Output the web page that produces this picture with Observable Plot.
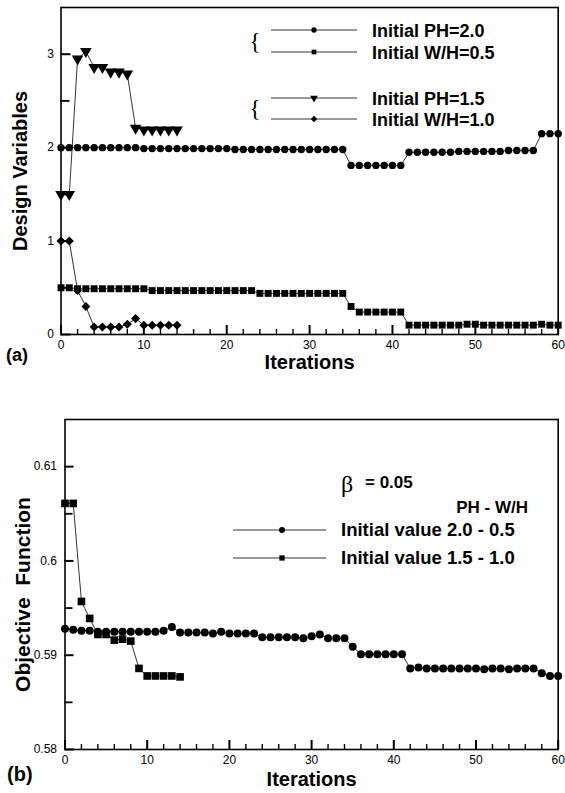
<!DOCTYPE html>
<html>
<head>
<meta charset="utf-8">
<script src="https://cdn.jsdelivr.net/npm/d3@7"></script>
<script src="https://cdn.jsdelivr.net/npm/@observablehq/plot@0.6"></script>
<style>
  html, body { margin: 0; padding: 0; background: #fff; }
  #wrap { position: relative; width: 565px; height: 793px; overflow: hidden; }
  #wrap svg { position: absolute; left: 0; }
</style>
</head>
<body>
<div id="wrap"></div>
<script>
// ---------- DATA ----------
// Panel (a): design variables vs iterations
const phInit20 = [2.00,2.00,2.00,2.00,2.00,2.00,2.00,2.00,2.00,2.00,
  1.99,1.99,1.99,1.99,1.99,1.99,1.99,1.99,1.99,1.99,1.99,
  1.98,1.98,1.98,1.98,1.98,1.98,1.98,1.98,1.98,1.98,1.98,1.98,1.98,1.98,
  1.81,1.81,1.81,1.81,1.81,1.81,1.81,
  1.95,1.95,1.95,1.95,1.95,1.95,1.96,1.96,1.96,1.96,1.96,1.96,1.97,1.97,1.97,1.97,
  2.15,2.15,2.15];
const whInit05 = [0.50,0.50,
  0.49,0.49,0.49,0.49,0.49,0.49,0.49,0.49,0.49,
  0.47,0.47,0.47,0.47,0.47,0.47,0.47,0.47,0.47,0.47,0.47,0.47,0.47,
  0.44,0.44,0.44,0.44,0.44,0.44,0.44,0.44,0.44,0.44,0.44,
  0.30,
  0.24,0.24,0.24,0.24,0.24,0.24,
  0.10,0.10,0.10,0.10,0.10,0.10,0.10,0.11,0.11,0.10,0.10,0.10,0.10,0.10,0.10,0.10,0.11,0.10,0.10];
const phInit15 = [1.50,1.50,2.95,3.03,2.86,2.86,2.81,2.81,2.79,2.21,2.19,2.19,2.19,2.19,2.19];
const whInit10 = [1.00,1.00,0.47,0.30,0.08,0.08,0.08,0.08,0.11,0.17,0.10,0.10,0.10,0.10,0.10];

// Panel (b): objective function vs iterations
const obj20_05 = [0.5928,0.5927,0.5926,0.5926,0.5925,0.5925,0.5925,0.5925,0.5925,0.5925,0.5925,0.5925,0.5926,0.5930,0.5924,0.5924,0.5924,
  0.5924,0.5923,0.5925,0.5923,0.5923,0.5923,0.5923,
  0.5919,0.5919,0.5919,0.5919,0.5919,0.5918,0.5920,0.5922,0.5918,0.5918,0.5918,
  0.5909,
  0.5901,0.5901,0.5901,0.5901,0.5901,0.5901,
  0.5886,0.5887,0.5886,0.5886,0.5886,0.5886,0.5886,0.5886,0.5886,0.5885,0.5886,0.5886,0.5885,0.5886,0.5886,0.5886,
  0.5881,0.5878,0.5878];
const obj15_10 = [0.6061,0.6061,0.5957,0.5939,0.5922,0.5922,0.5916,0.5917,0.5915,0.5886,0.5878,0.5878,0.5878,0.5878,0.5877];

// Ticks
const xMajor = [0,10,20,30,40,50,60];
const xMinor = [2,4,6,8,12,14,16,18,22,24,26,28,32,34,36,38,42,44,46,48,52,54,56,58];
const yMajorA = [0,1,2,3];
const yMinorA = [0.5,1.5,2.5];
const yMajorB = [0.58,0.59,0.6,0.61];
const yMinorB = [0.585,0.595,0.605];

// Texts
const titleX = "Iterations";
const titleYA = "Design Variables";
const titleYB = "Objective\u00A0\u00A0Function";
const panelA = "(a)";
const panelB = "(b)";
const legendLabelsA = ["Initial PH=2.0","Initial W/H=0.5","Initial PH=1.5","Initial W/H=1.0"];
const legendLabelsB = ["Initial value 2.0 - 0.5","Initial value 1.5 - 1.0"];
const legendHeaderB = "PH - W/H";
const betaSym = "\u03B2";
const betaText = "= 0.05";

// ---------- HELPERS ----------
const font = '"Liberation Sans", Arial, Helvetica, sans-serif';
// inward tick marks: rules inset so only `len` px remain next to the axis
const ticksX = (vals, len, frameH, sw) => Plot.ruleX(vals, {x: d => d, insetTop: frameH - len, stroke: "black", strokeWidth: sw});
const ticksY = (vals, len, frameW, sw) => Plot.ruleY(vals, {y: d => d, insetRight: frameW - len, stroke: "black", strokeWidth: sw});
const tidy = (vals) => vals.map((v, i) => ({iter: i, value: v}));

function seriesMarks(vals, symbol, r, rotate) {
  const d = tidy(vals);
  return [
    Plot.line(d, {x: "iter", y: "value", stroke: "black", strokeWidth: 0.8}),
    Plot.dot(d, {x: "iter", y: "value", symbol, r, rotate, fill: "black", stroke: "none"})
  ];
}

const symbolPath = (name, size) => {
  const map = {circle: d3.symbolCircle, square: d3.symbolSquare, triangle: d3.symbolTriangle};
  return d3.symbol(map[name], size)();
};

const wrap = document.getElementById("wrap");

// ---------- PANEL (a) ----------
const A = {w: 565, h: 380, ml: 60.5, mr: 7.3, mt: 7, mb: 46};
const fwA = A.w - A.ml - A.mr, fhA = A.h - A.mt - A.mb;
const chartA = Plot.plot({
  width: A.w, height: A.h,
  marginLeft: A.ml, marginRight: A.mr, marginTop: A.mt, marginBottom: A.mb,
  x: {domain: [0, 60]},
  y: {domain: [0, 3.5]},
  style: {fontFamily: font, background: "transparent", overflow: "visible", color: "black"},
  marks: [
    Plot.frame({stroke: "black", strokeWidth: 1.6}),
    ticksX(xMajor, 9, fhA, 2), ticksX(xMinor, 5, fhA, 1.4),
    ticksY(yMajorA, 10, fwA, 2), ticksY(yMinorA, 9, fwA, 1.8),
    Plot.axisX({ticks: xMajor, tickSize: 0, tickPadding: 6, fontSize: 12, tickFormat: d => String(d), label: null}),
    Plot.axisY({ticks: yMajorA, tickSize: 0, tickPadding: 7, fontSize: 12, tickFormat: d => String(d), label: null}),
    ...seriesMarks(phInit20, "circle", 3.7, 0),
    ...seriesMarks(whInit05, "square", 3.9, 0),
    ...seriesMarks(phInit15, "triangle", 4.3, 180),
    ...seriesMarks(whInit10, "square", 3.6, 45),
    Plot.text([titleX], {frameAnchor: "bottom", dy: 28, fontSize: 20, fontWeight: "bold", lineAnchor: "middle", textAnchor: "middle", fill: "black"}),
    Plot.text([titleYA], {frameAnchor: "left", dx: -40, rotate: -90, fontSize: 20, fontWeight: "bold", lineAnchor: "middle", textAnchor: "middle", fill: "black"}),
    Plot.text([panelA], {frameAnchor: "bottom-left", dx: -55, dy: 21, textAnchor: "start", fontSize: 18, fontWeight: "bold", lineAnchor: "middle", fill: "black"})
  ]
});
chartA.style.top = "0px";
wrap.appendChild(chartA);

// legend (a)
{
  const g = d3.select(chartA).append("g").attr("font-family", font).attr("text-anchor", "start");
  const rowsY = [30, 52, 98, 119];
  const syms = [["circle", 22, 0], ["square", 22, 0], ["triangle", 26, 180], ["square", 20, 45]];
  legendLabelsA.forEach((lab, i) => {
    const y = rowsY[i];
    g.append("line").attr("x1", 271).attr("x2", 357).attr("y1", y).attr("y2", y).attr("stroke", "black").attr("stroke-width", 0.8);
    g.append("path").attr("d", symbolPath(syms[i][0], syms[i][1])).attr("transform", `translate(314,${y}) rotate(${syms[i][2]})`).attr("fill", "black");
    g.append("text").attr("x", 372).attr("y", y + 1).attr("dy", "0.35em").attr("text-anchor", "start").attr("font-size", 18).attr("font-weight", "bold").attr("fill", "black").text(lab);
  });
  [41, 108].forEach(y => {
    g.append("text").attr("x", 255).attr("y", y).attr("dy", "0.35em").attr("text-anchor", "middle")
      .attr("font-family", '"Liberation Serif", "DejaVu Serif", serif').attr("font-size", 24).attr("fill", "black").text("{");
  });
}

// ---------- PANEL (b) ----------
const B = {w: 565, h: 413, ml: 64.5, mr: 7.3, mt: 39, mb: 44};
const fwB = B.w - B.ml - B.mr, fhB = B.h - B.mt - B.mb;
const chartB = Plot.plot({
  width: B.w, height: B.h,
  marginLeft: B.ml, marginRight: B.mr, marginTop: B.mt, marginBottom: B.mb,
  x: {domain: [0, 60]},
  y: {domain: [0.58, 0.615]},
  style: {fontFamily: font, background: "transparent", overflow: "visible", color: "black"},
  marks: [
    Plot.frame({stroke: "black", strokeWidth: 1.6}),
    ticksX(xMajor, 9, fhB, 2), ticksX(xMinor, 5, fhB, 1.4),
    ticksY(yMajorB, 9, fwB, 2), ticksY(yMinorB, 8, fwB, 1.8),
    Plot.axisX({ticks: xMajor, tickSize: 0, tickPadding: 6, fontSize: 12, tickFormat: d => String(d), label: null}),
    Plot.axisY({ticks: yMajorB, tickSize: 0, tickPadding: 8, fontSize: 12, tickFormat: d => String(+d.toFixed(2)), label: null}),
    ...seriesMarks(obj20_05, "circle", 4, 0),
    ...seriesMarks(obj15_10, "square", 4.3, 0),
    Plot.text([titleX], {frameAnchor: "bottom", dy: 30, fontSize: 20, fontWeight: "bold", lineAnchor: "middle", textAnchor: "middle", fill: "black"}),
    Plot.text([titleYB], {frameAnchor: "left", dx: -42, dy: 10, rotate: -90, fontSize: 21, fontWeight: "bold", lineAnchor: "middle", textAnchor: "middle", fill: "black"}),
    Plot.text([panelB], {frameAnchor: "bottom-left", dx: -58, dy: 25, textAnchor: "start", fontSize: 20, fontWeight: "bold", lineAnchor: "middle", fill: "black"})
  ]
});
chartB.style.top = "380px";
wrap.appendChild(chartB);

// legend (b)
{
  const off = 380;
  const g = d3.select(chartB).append("g").attr("font-family", font).attr("text-anchor", "start");
  g.append("text").attr("x", 341).attr("y", 484 - off).attr("dy", "0.35em").attr("text-anchor", "start")
    .attr("font-family", '"Liberation Serif", "DejaVu Serif", serif').attr("font-size", 24).attr("fill", "black").text(betaSym);
  g.append("text").attr("x", 365).attr("y", 482 - off).attr("dy", "0.35em").attr("text-anchor", "start").attr("font-size", 17).attr("font-weight", "bold").attr("fill", "black").text(betaText);
  g.append("text").attr("x", 528).attr("y", 507 - off).attr("dy", "0.35em").attr("text-anchor", "end").attr("font-size", 17).attr("font-weight", "bold").attr("fill", "black").text(legendHeaderB);
  const rowsY = [530, 558];
  const syms = [["circle", 28], ["square", 28]];
  legendLabelsB.forEach((lab, i) => {
    const y = rowsY[i] - off;
    g.append("line").attr("x1", 233).attr("x2", 326).attr("y1", y).attr("y2", y).attr("stroke", "black").attr("stroke-width", 0.8);
    g.append("path").attr("d", symbolPath(syms[i][0], syms[i][1])).attr("transform", `translate(282,${y})`).attr("fill", "black");
    g.append("text").attr("x", 341).attr("y", y).attr("dy", "0.35em").attr("text-anchor", "start").attr("font-size", 18.5).attr("font-weight", "bold").attr("fill", "black").text(lab);
  });
}
</script>
</body>
</html>
